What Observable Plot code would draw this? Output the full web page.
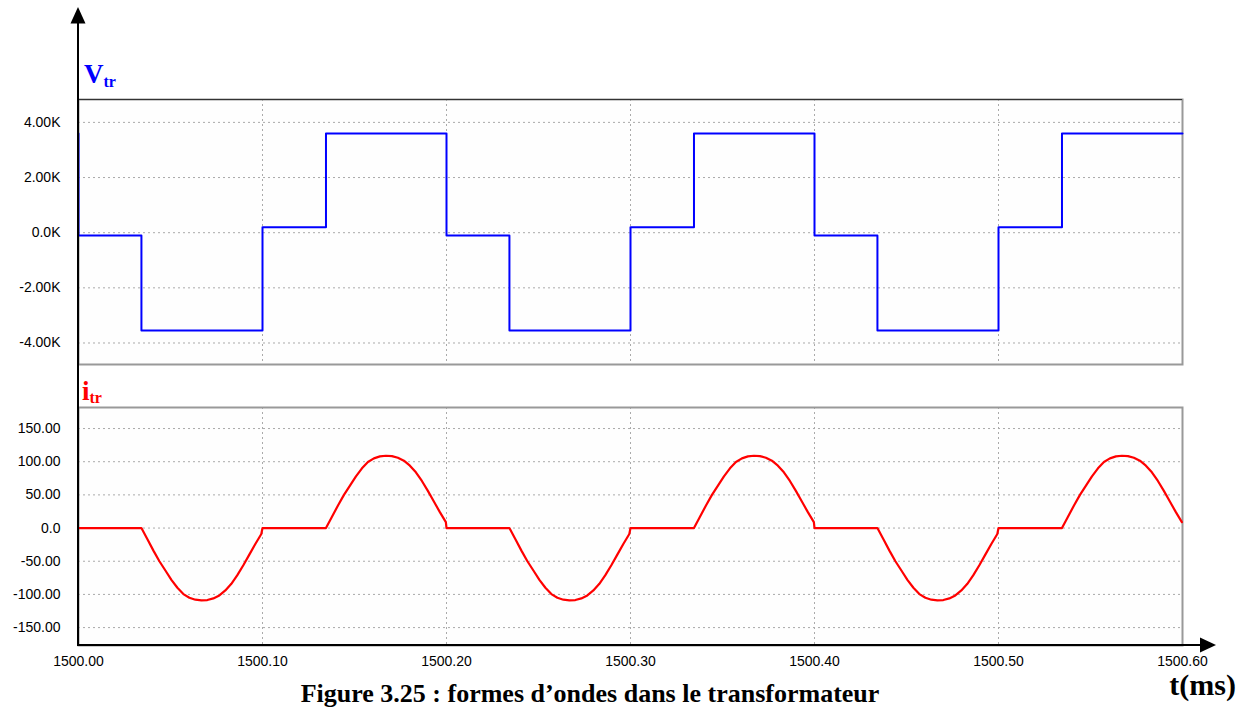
<!DOCTYPE html>
<html><head><meta charset="utf-8">
<script src="https://cdn.jsdelivr.net/npm/d3@7"></script>
<script src="https://cdn.jsdelivr.net/npm/@observablehq/plot@0.6"></script>
<style>
html,body{margin:0;padding:0;background:#fff;}
#chart{position:relative;width:1247px;height:707px;overflow:hidden;font-family:"Liberation Sans",Arial,sans-serif;}
#chart > svg, #chart > div {position:absolute;}
</style></head><body><div id="chart"></div>
<script>
// ---- data ----
const xTicks = [1500.0, 1500.1, 1500.2, 1500.3, 1500.4, 1500.5, 1500.6];
const xTickLabels = ["1500.00", "1500.10", "1500.20", "1500.30", "1500.40", "1500.50", "1500.60"];

const vTicks = [4000, 2000, 0, -2000, -4000];
const vTickLabels = ["4.00K", "2.00K", "0.0K", "-2.00K", "-4.00K"];

const iTicks = [150, 100, 50, 0, -50, -100, -150];
const iTickLabels = ["150.00", "100.00", "50.00", "0.0", "-50.00", "-100.00", "-150.00"];

// transformer voltage (step waveform): switching instants (ms) and levels (V)
const vTimes  = [1500.0, 1500.0, 1500.0342, 1500.1, 1500.1345, 1500.2, 1500.2342, 1500.3, 1500.3345, 1500.4, 1500.4342, 1500.5, 1500.5345, 1500.6];
const vLevels = [3600, -100, -3550, 200, 3600, -100, -3550, 200, 3600, -100, -3550, 200, 3600, 3600];

// transformer current: one conduction lobe
// (time offset from lobe start in ms, magnitude in A)
const iLobeOffsets = [0, .00326, .00652, .00977, .01303, .01629, .01955, .0228, .02606, .02932, .03258,
                      .03584, .03909, .04235, .04561, .04887, .05213, .05538, .05864, .0619, .06516];
const iLobeMag     = [0, 17, 34, 50, 64, 78, 90, 99.5, 105, 108, 109,
                      108.5, 106, 101.5, 94, 84, 71, 56, 40, 24, 9];
const iLobeStarts  = [1500.0342, 1500.1345, 1500.2342, 1500.3345, 1500.4342, 1500.5345];
const iLobeEnds    = [1500.1, 1500.2, 1500.3, 1500.4, 1500.5, 1500.6];
const iLobeSign    = [-1, 1, -1, 1, -1, 1];

// ---- tables ----
const vData = vTimes.map((t, k) => ({t, v: vLevels[k]}));
const iData = [{t: 1500.0, i: 0}];
iLobeStarts.forEach((s, k) => {
  iLobeOffsets.forEach((o, j) => iData.push({t: s + o, i: iLobeSign[k] * iLobeMag[j]}));
  if (k < iLobeStarts.length - 1) iData.push({t: iLobeEnds[k], i: 0});
});

const W = 1247;
const xDomain = [1500.0, 1500.6];
const fmtFrom = (ticks, labels) => d => labels[ticks.findIndex(t => Math.abs(t - d) < 1e-6)];
const baseStyle = {fontFamily: "'Liberation Sans', Arial, sans-serif", fontSize: "14px", background: "transparent", color: "#000", overflow: "visible"};
const gridStyle = {stroke: "#aaa", strokeOpacity: 1, strokeDasharray: "2,3", strokeWidth: 1};

const topPlot = Plot.plot({
  width: W, height: 290,
  marginLeft: 78, marginRight: 65, marginTop: 9, marginBottom: 16,
  style: baseStyle,
  x: {domain: xDomain, axis: null},
  y: {domain: [-4780, 4830], ticks: vTicks, tickFormat: fmtFrom(vTicks, vTickLabels), tickSize: 0, tickPadding: 18, label: null},
  marks: [
    Plot.frame({fill: "#fefefe", stroke: "none"}),
    Plot.ruleY(vTicks, gridStyle),
    Plot.ruleX(xTicks, gridStyle),
    Plot.frame({stroke: "#999", strokeWidth: 2}),
    Plot.ruleY([4830], {stroke: "#333", strokeWidth: 1}),
    Plot.line(vData, {x: "t", y: "v", curve: "step-after", stroke: "#0000ff", strokeWidth: 2})
  ]
});
topPlot.style.left = "0px"; topPlot.style.top = "90px";

const botPlot = Plot.plot({
  width: W, height: 300,
  marginLeft: 78, marginRight: 65, marginTop: 27, marginBottom: 35,
  style: baseStyle,
  x: {domain: xDomain, ticks: xTicks, tickFormat: fmtFrom(xTicks, xTickLabels), tickSize: 0, tickPadding: 11, label: null},
  y: {domain: [-177, 181.7], ticks: iTicks, tickFormat: fmtFrom(iTicks, iTickLabels), tickSize: 0, tickPadding: 18, label: null},
  marks: [
    Plot.frame({fill: "#fefefe", stroke: "none"}),
    Plot.ruleY(iTicks, gridStyle),
    Plot.ruleX(xTicks, gridStyle),
    Plot.frame({stroke: "#999", strokeWidth: 2}),
    Plot.line(iData, {x: "t", y: "i", curve: "linear", stroke: "#ff0000", strokeWidth: 2.2})
  ]
});
botPlot.style.left = "0px"; botPlot.style.top = "380px";

const chart = document.getElementById("chart");
chart.appendChild(topPlot);
chart.appendChild(botPlot);

// ---- overlay: axis arrows, series labels, caption ----
const ov = d3.select(chart).append("svg")
  .attr("width", W).attr("height", 707)
  .style("left", "0px").style("top", "0px").style("pointer-events", "none");

ov.append("line").attr("x1", 78).attr("y1", 20).attr("x2", 78).attr("y2", 646).attr("stroke", "#000").attr("stroke-width", 2);
ov.append("polygon").attr("points", "78,7 70.5,23.5 85.5,23.5").attr("fill", "#000");
ov.append("line").attr("x1", 77).attr("y1", 645).attr("x2", 1203).attr("y2", 645).attr("stroke", "#000").attr("stroke-width", 2);
ov.append("polygon").attr("points", "1216,645 1200,637.5 1200,652.5").attr("fill", "#000");

const serif = "'Liberation Serif', 'Times New Roman', serif";
const vl = ov.append("text").attr("x", 84).attr("y", 83).attr("font-family", serif).attr("font-weight", "bold").attr("fill", "#0000ff");
vl.append("tspan").attr("font-size", 27).text("V");
vl.append("tspan").attr("font-size", 16).attr("dy", 4).text("tr");

const il = ov.append("text").attr("x", 82).attr("y", 400).attr("font-family", serif).attr("font-weight", "bold").attr("fill", "#ff0000");
il.append("tspan").attr("font-size", 27).text("i");
il.append("tspan").attr("font-size", 16).attr("dy", 3).text("tr");

ov.append("text").attr("x", 1236).attr("y", 695).attr("text-anchor", "end")
  .attr("font-family", serif).attr("font-weight", "bold").attr("font-size", 30).text("t(ms)");

ov.append("text").attr("x", 590).attr("y", 702).attr("text-anchor", "middle")
  .attr("font-family", serif).attr("font-weight", "bold").attr("font-size", 26)
  .text("Figure 3.25 : formes d’ondes dans le transformateur");
</script></body></html>
